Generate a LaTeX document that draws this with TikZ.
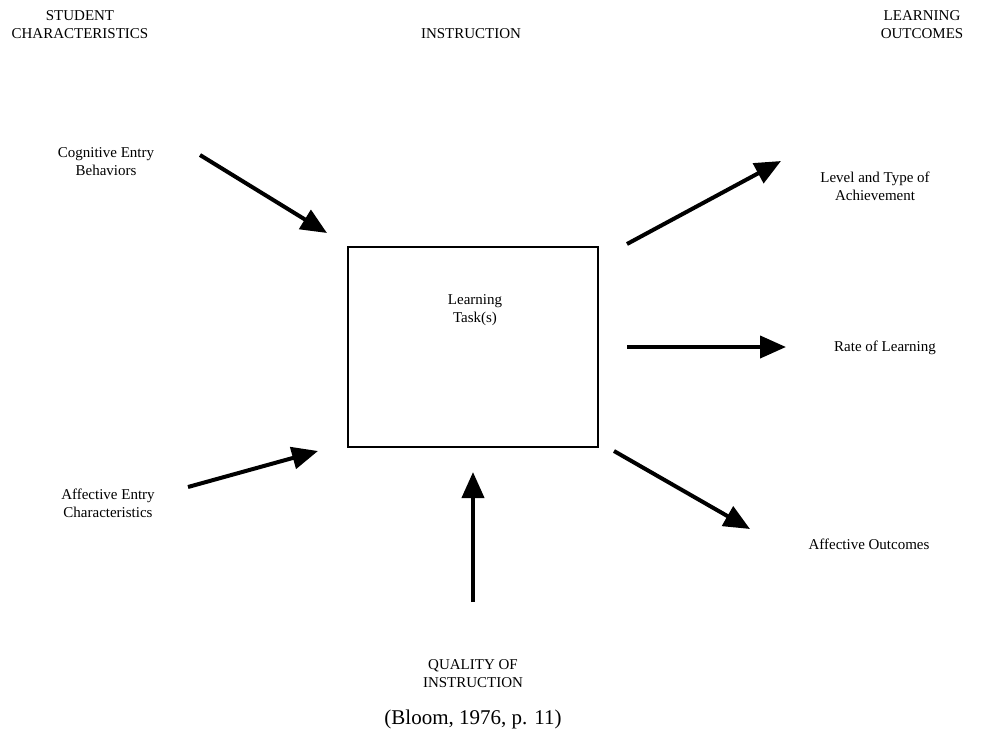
\documentclass[tikz,border=0pt]{standalone}
\usepackage{fontspec}
\setmainfont{Liberation Serif}
\usetikzlibrary{arrows.meta}
\begin{document}
\begin{tikzpicture}[x=1pt,y=-1pt,
  lbl/.style={font=\fontsize{15}{18}\selectfont, align=center, inner sep=0pt},
  hdr/.style={font=\fontsize{15}{18}\selectfont, align=center, inner sep=0pt},
  arr/.style={line width=4pt, -{Triangle[length=26pt,width=22pt]}},
  taskbox/.style={draw, line width=2pt, minimum width=250pt, minimum height=200pt, inner sep=0pt}]
\useasboundingbox (0,0) rectangle (998,747);
\node[hdr] (h1) at (80,25) {STUDENT\\CHARACTERISTICS};
\node[hdr] (h2) at (471,34) {INSTRUCTION};
\node[hdr] (h3) at (922,25) {LEARNING\\OUTCOMES};
\node[taskbox] (box) at (473,347) {};
\node[lbl] (task) at (475,310) {Learning\\Task(s)};
\node[lbl] (cog) at (106,162) {Cognitive Entry\\Behaviors};
\node[lbl] (aff) at (108,503) {Affective Entry\\Characteristics};
\node[lbl] (lev) at (875,186) {Level and Type of\\Achievement};
\node[lbl] (rate) at (885,348) {Rate of Learning};
\node[lbl] (affo) at (869,544) {Affective Outcomes};
\node[lbl] (qual) at (473,674) {QUALITY OF\\INSTRUCTION};
\node[inner sep=0pt, font=\fontsize{21}{25}\selectfont] (src) at (473,719) {(Bloom, 1976, p. 11)};
\coordinate (c1s) at (200,155); \coordinate (c1e) at (327,233);
\coordinate (c2s) at (188,487); \coordinate (c2e) at (318,451);
\coordinate (c3s) at (627,244); \coordinate (c3e) at (781,161);
\coordinate (c4s) at (627,347); \coordinate (c4e) at (786,347);
\coordinate (c5s) at (614,451); \coordinate (c5e) at (750,529);
\coordinate (c6s) at (473,602); \coordinate (c6e) at (473,472);
\draw[arr] (c1s) -- (c1e);
\draw[arr] (c2s) -- (c2e);
\draw[arr] (c3s) -- (c3e);
\draw[arr] (c4s) -- (c4e);
\draw[arr] (c5s) -- (c5e);
\draw[arr] (c6s) -- (c6e);
\end{tikzpicture}
\end{document}
